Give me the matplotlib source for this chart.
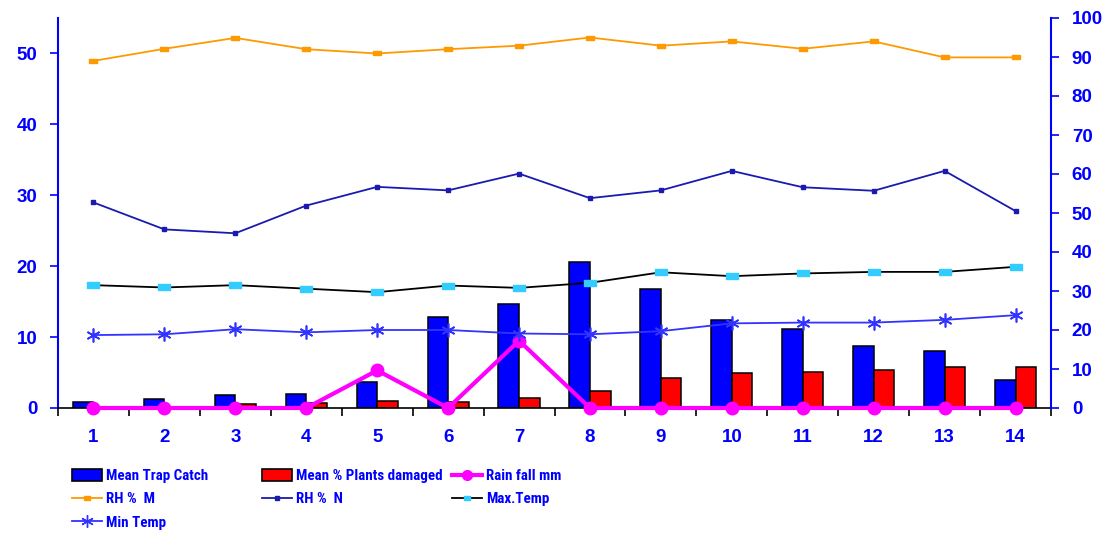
import numpy as np
import matplotlib
matplotlib.use("Agg")
import matplotlib.pyplot as plt
from matplotlib.patches import Patch
from matplotlib.lines import Line2D

# data
weeks = list(range(1, 15))
trap_catch = [0.8, 1.2, 1.8, 2.0, 3.6, 12.9, 14.6, 20.6, 16.8, 12.4, 11.1, 8.7, 8.0, 4.0]
plants_damaged = [0.1, 0.1, 0.5, 0.75, 0.95, 0.9, 1.4, 2.45, 4.2, 4.9, 5.1, 5.4, 5.75, 5.75]
rain_fall = [0, 0, 0, 0, 5.3, 0, 9.5, 0, 0, 0, 0, 0, 0, 0]
rh_m = [89.0, 92.1, 94.9, 92.0, 90.9, 92.0, 92.9, 95.0, 92.9, 94.0, 92.1, 94.0, 89.9, 89.9]
rh_n = [52.7, 45.8, 44.8, 51.9, 56.7, 55.8, 60.1, 53.8, 55.8, 60.8, 56.6, 55.7, 60.8, 50.5]
max_temp = [31.5, 30.9, 31.5, 30.6, 29.7, 31.4, 30.8, 32.1, 34.8, 33.8, 34.5, 34.9, 34.9, 36.2]
min_temp = [18.7, 18.9, 20.2, 19.4, 20.0, 20.0, 19.1, 18.9, 19.7, 21.7, 21.9, 21.9, 22.6, 23.8]

plt.rcParams['font.family'] = ['Liberation Sans', 'DejaVu Sans']
plt.rcParams['font.weight'] = 'bold'

txt_blue = '#0000FF'
# wide flat rectangle marker like the excel dash marker
flat_box = [(-1, -0.55), (1, -0.55), (1, 0.55), (-1, 0.55), (-1, -0.55)]

fig = plt.figure(figsize=(11.08, 5.34), dpi=100)
ax = fig.add_axes([58/1108, 1 - 408/534, (1051 - 58)/1108, (408 - 18)/534])
ax2 = ax.twinx()

x = np.array(weeks)
w = 0.29
ax.bar(x - w/2, trap_catch, w, color='#0000FF', edgecolor='black', linewidth=1.1, zorder=2)
ax.bar(x + w/2, plants_damaged, w, color='#FF0000', edgecolor='black', linewidth=1.1, zorder=2)
ax.plot(x, rain_fall, color='#FF00FF', lw=3, marker='o', ms=9, zorder=3, clip_on=False)

ax2.plot(x, rh_m, color='#FF9900', lw=1.3, marker=flat_box, ms=6)
ax2.plot(x, rh_n, color='#1A1AB0', lw=1.3, marker='s', ms=2.5)
ax2.plot(x, max_temp, color='black', lw=1.3, marker=flat_box, ms=8, mfc='#33CCFF', mec='#33CCFF')
ax2.plot(x, min_temp, color='#3333FF', lw=1.3, marker=(6, 2, 0), ms=10, mew=1.2)

ax.set_xlim(0.5, 14.5)
ax.set_ylim(0, 55)
ax2.set_ylim(0, 100)
ax.set_yticks(range(0, 51, 10))
ax2.set_yticks(range(0, 101, 10))
ax.set_xticks(x)
ax.set_xticks(np.arange(0.5, 15, 1), minor=True)
ax.tick_params(axis='x', which='major', length=0, pad=15, labelsize=13.5, labelcolor=txt_blue)
ax.tick_params(axis='x', which='minor', length=6, width=1.2, color='black')
ax.tick_params(axis='y', length=6, width=1.2, color=txt_blue, pad=9, labelsize=13.5, labelcolor=txt_blue)
ax2.tick_params(axis='y', length=6, width=1.2, color=txt_blue, pad=9, labelsize=13.5, labelcolor=txt_blue)

for s in ['top', 'right']:
    ax.spines[s].set_visible(False)
for s in ['top', 'left', 'bottom']:
    ax2.spines[s].set_visible(False)
ax.spines['left'].set_color(txt_blue)
ax.spines['left'].set_linewidth(1.5)
ax.spines['bottom'].set_color('black')
ax.spines['bottom'].set_linewidth(1.2)
ax2.spines['right'].set_color(txt_blue)
ax2.spines['right'].set_linewidth(1.5)

# legend handles
h_trap = Patch(facecolor='#0000FF', edgecolor='black', linewidth=1.2, label='Mean Trap Catch')
h_dam = Patch(facecolor='#FF0000', edgecolor='black', linewidth=1.2, label='Mean % Plants damaged')
h_rain = Line2D([], [], color='#FF00FF', lw=3, marker='o', ms=7, label='Rain fall mm')
h_rhm = Line2D([], [], color='#FF9900', lw=1.3, marker=flat_box, ms=4, label='RH %  M')
h_rhn = Line2D([], [], color='#1A1AB0', lw=1.3, marker='s', ms=2.5, label='RH %  N')
h_max = Line2D([], [], color='black', lw=1.3, marker=flat_box, ms=5, mfc='#33CCFF', mec='#33CCFF', label='Max.Temp')
h_min = Line2D([], [], color='#3333FF', lw=1.3, marker=(6, 2, 0), ms=9, label='Min Temp')

# three legend columns, placed like the excel legend (narrow bold font)
leg_prop = {'family': ['Roboto Condensed', 'Barlow Semi Condensed', 'Liberation Sans'],
            'weight': 'bold', 'size': 10.8}
cols = [([h_trap, h_rhm, h_min], 72), ([h_dam, h_rhn], 262), ([h_rain, h_max], 452)]
for hs, px in cols:
    leg = fig.legend(handles=hs, loc='upper left', bbox_to_anchor=(px/1108, 1 - 469/534),
                     frameon=False, borderpad=0, borderaxespad=0, handlelength=2.0,
                     handleheight=0.8, handletextpad=0.3, labelspacing=0.62, prop=leg_prop)
    for t in leg.get_texts():
        t.set_color(txt_blue)

fig.savefig('out.png', dpi=100)
